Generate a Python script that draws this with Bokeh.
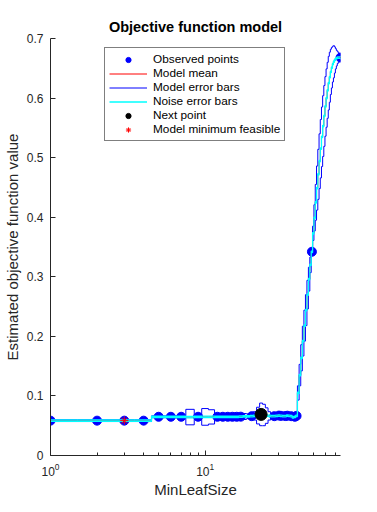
import numpy as np
from bokeh.plotting import figure
from bokeh.models import Range1d, FixedTicker, Legend, LegendItem, CustomJSTickFormatter
from bokeh.embed import file_html
from bokeh.resources import INLINE

# ---------------- data ----------------
leaf_size = list(range(1, 76))
model_mean = [
    0.0585, 0.0585, 0.0585, 0.0585, 0.0650, 0.0650, 0.0650, 0.0645, 0.0650, 0.0648,
    0.0648, 0.0650, 0.0650, 0.0650, 0.0650, 0.0650, 0.0652, 0.0655, 0.0658, 0.0660,
    0.0665, 0.0670, 0.0690, 0.0680, 0.0670, 0.0665, 0.0660, 0.0660, 0.0665, 0.0670,
    0.0665, 0.0660, 0.0662, 0.0668, 0.0665, 0.0660, 0.0640, 0.0650, 0.0665, 0.105,
    0.135, 0.164, 0.192, 0.218, 0.244, 0.270, 0.296, 0.320, 0.342, 0.373,
    0.399, 0.425, 0.449, 0.472, 0.494, 0.515, 0.535, 0.553, 0.570, 0.586,
    0.600, 0.613, 0.625, 0.635, 0.644, 0.651, 0.657, 0.661, 0.664, 0.666,
    0.667, 0.668, 0.668, 0.668, 0.668,
]
model_sd = [
    0.0015, 0.0015, 0.0015, 0.0015, 0.0015, 0.0015, 0.0015, 0.013, 0.0015, 0.014,
    0.012, 0.0015, 0.0015, 0.0015, 0.0015, 0.0015, 0.0015, 0.005, 0.004, 0.0015,
    0.007, 0.014, 0.019, 0.018, 0.013, 0.007, 0.004, 0.0015, 0.003, 0.0015,
    0.0015, 0.003, 0.0015, 0.0015, 0.003, 0.0015, 0.003, 0.0015, 0.0015, 0.012,
    0.018, 0.022, 0.025, 0.026, 0.026, 0.024, 0.020, 0.013, 0.0015, 0.012,
    0.022, 0.030, 0.037, 0.042, 0.046, 0.049, 0.050, 0.051, 0.051, 0.050,
    0.049, 0.047, 0.045, 0.042, 0.038, 0.034, 0.030, 0.027, 0.022, 0.017,
    0.013, 0.010, 0.008, 0.006, 0.004,
]
noise_sd = 0.0012

obs_x = [1, 2, 3, 4, 5, 6, 7, 9, 12, 13, 14, 15, 16, 17, 20, 28, 30, 31, 33, 34, 36, 38, 39, 49, 75]
obs_y = [0.0585, 0.0585, 0.0585, 0.0585, 0.065, 0.065, 0.065, 0.065, 0.065, 0.065, 0.065,
         0.065, 0.065, 0.0652, 0.066, 0.066, 0.067, 0.0665, 0.0662, 0.0668, 0.066, 0.065,
         0.0665, 0.342, 0.668]
next_x = [23]
next_y = [0.069]
minfeas_x = [3]
minfeas_y = [0.0585]

y_ticks = [0, 0.1, 0.2, 0.3, 0.4, 0.5, 0.6, 0.7]
x_major = [1, 10]
x_minor = [2, 3, 4, 5, 6, 7, 8, 9, 20, 30, 40, 50, 60, 70]

FONT = "Liberation Sans"
AX = "#262626"


def step_path(xv, yv):
    xs, ys = [], []
    for k, v in zip(xv, yv):
        xs += [k - 0.5, k + 0.5]
        ys += [v, v]
    return xs, ys


lx = np.array(leaf_size, dtype=float)
m = np.array(model_mean)
sd = np.array(model_sd)

xm, ym = step_path(lx, m)
xu, yu = step_path(lx, m + sd)
xl, yl = step_path(lx, m - sd)
xnu, ynu = step_path(lx, m + noise_sd)
xnl, ynl = step_path(lx, m - noise_sd)

bar_x = xu + [xu[-1]] + xl
bar_y = yu + [np.nan] + yl
nbar_x = xnu + [xnu[-1]] + xnl
nbar_y = ynu + [np.nan] + ynl

p = figure(width=377, height=512, x_axis_type="log",
           x_range=Range1d(1, 75), y_range=Range1d(0, 0.7),
           output_backend="svg", toolbar_location=None,
           min_border_left=49, min_border_right=37, min_border_top=38, min_border_bottom=57,
           title="Objective function model",
           x_axis_label="MinLeafSize", y_axis_label="Estimated objective function value")
p.background_fill_color = "white"
p.border_fill_color = "white"
p.outline_line_color = None
p.xgrid.visible = False
p.ygrid.visible = False

p.title.align = "center"
p.title.text_font = FONT
p.title.text_font_size = "14.5px"
p.title.text_font_style = "bold"
p.title.text_color = "black"
p.title.standoff = 7

for ax in (p.xaxis[0], p.yaxis[0]):
    ax.axis_line_color = AX
    ax.major_tick_line_color = AX
    ax.minor_tick_line_color = AX
    ax.major_tick_in = 5
    ax.major_tick_out = 0
    ax.minor_tick_in = 3
    ax.minor_tick_out = 0
    ax.major_label_text_font = FONT
    ax.major_label_text_font_size = "12px"
    ax.major_label_text_color = AX
    ax.axis_label_text_font = FONT
    ax.axis_label_text_font_size = "15px"
    ax.axis_label_text_font_style = "normal"
    ax.axis_label_text_color = AX

p.xaxis.ticker = FixedTicker(ticks=x_major, minor_ticks=x_minor)
p.xaxis.major_label_standoff = 7
p.xaxis.axis_label_standoff = 2
p.yaxis.ticker = FixedTicker(ticks=y_ticks)
p.yaxis.minor_tick_line_color = None
p.yaxis.formatter = CustomJSTickFormatter(code="return tick == 0 ? '0' : tick.toFixed(1);")
p.yaxis.major_label_standoff = 7
p.yaxis.axis_label_standoff = 3

r_obs = p.scatter(obs_x, obs_y, size=9, marker="circle", fill_color="#0000FF", line_color="#0000FF")
r_mean = p.line(xm, ym, line_color="#FF0000", line_width=1)
r_bar = p.line(bar_x, bar_y, line_color="#0000FF", line_width=1)
r_noise = p.line(nbar_x, nbar_y, line_color="#00FFFF", line_width=1.3)
r_next = p.scatter(next_x, next_y, size=12, marker="circle", fill_color="black", line_color="black")
r_min = p.scatter(minfeas_x, minfeas_y, size=8, marker="asterisk", line_color="#FF0000", line_width=1)

legend = Legend(items=[
    LegendItem(label="Observed points", renderers=[r_obs]),
    LegendItem(label="Model mean", renderers=[r_mean]),
    LegendItem(label="Model error bars", renderers=[r_bar]),
    LegendItem(label="Noise error bars", renderers=[r_noise]),
    LegendItem(label="Next point", renderers=[r_next]),
    LegendItem(label="Model minimum feasible", renderers=[r_min]),
], location=(54, 314))
legend.border_line_color = "black"
legend.border_line_width = 1
legend.background_fill_color = "white"
legend.background_fill_alpha = 1
legend.label_text_font = FONT
legend.label_text_font_size = "11.8px"
legend.label_text_color = "black"
legend.padding = 4
legend.spacing = 0
legend.margin = 0
legend.glyph_height = 13
legend.label_height = 13
legend.glyph_width = 38
legend.label_standoff = 6
p.add_layout(legend, "center")

open("out.html", "w").write(file_html(p, INLINE))
